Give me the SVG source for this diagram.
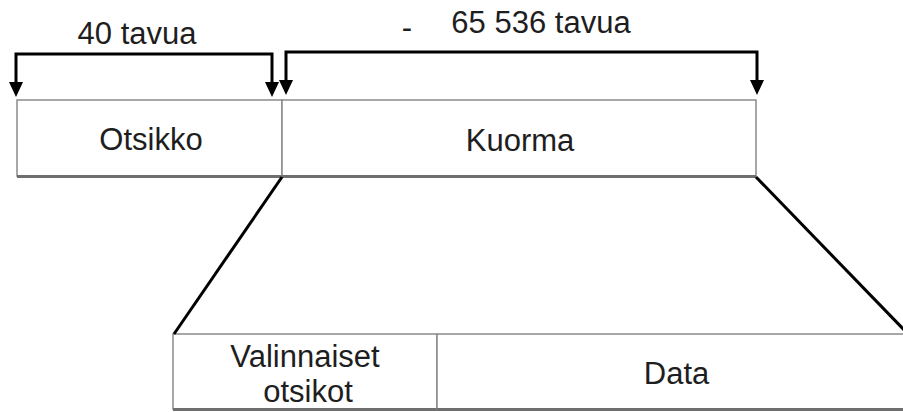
<svg xmlns="http://www.w3.org/2000/svg" width="903" height="412" viewBox="0 0 903 412">
  <style>
    .box { fill: #ffffff; stroke: #8a8a8a; stroke-width: 1.5; }
    .base { stroke: #6e6e6e; stroke-width: 3; fill: none; }
    .lbl { font-family: "Liberation Sans", Arial, sans-serif; font-size: 31px; fill: #1e1e1e; text-anchor: middle; }
    .conn { stroke: #000000; stroke-width: 3; fill: none; }
    .bracket { stroke: #000000; stroke-width: 3; fill: none; marker-start: url(#head); marker-end: url(#head); }
  </style>
  <defs>
    <marker id="head" viewBox="0 0 15 14" refX="0" refY="7" markerWidth="15" markerHeight="14" markerUnits="userSpaceOnUse" orient="auto-start-reverse">
      <path d="M0,0 L15,7 L0,14 z" fill="#000000"/>
    </marker>
  </defs>
  <rect x="0" y="0" width="903" height="412" fill="#ffffff"/>

  <g id="otsikko">
    <rect class="box" x="17" y="100" width="265" height="76"/>
    <line class="base" x1="17" y1="176.5" x2="282" y2="176.5"/>
    <text class="lbl" x="151" y="150">Otsikko</text>
  </g>

  <g id="kuorma">
    <rect class="box" x="282" y="100" width="474" height="76"/>
    <line class="base" x1="282" y1="176.5" x2="756" y2="176.5"/>
    <text class="lbl" x="520" y="151">Kuorma</text>
  </g>

  <g id="valinnaiset-otsikot">
    <rect class="box" x="173" y="334" width="264" height="75"/>
    <line class="base" x1="173" y1="409.5" x2="437" y2="409.5"/>
    <text class="lbl" x="305" y="367">Valinnaiset</text>
    <text class="lbl" x="308" y="402">otsikot</text>
  </g>

  <g id="data">
    <rect class="box" x="437" y="334" width="480" height="75"/>
    <line class="base" x1="437" y1="409.5" x2="917" y2="409.5"/>
    <text class="lbl" x="676.5" y="384">Data</text>
  </g>

  <g id="labels">
    <text class="lbl" x="137" y="44">40 tavua</text>
    <text class="lbl" x="407" y="38">-</text>
    <text class="lbl" x="541" y="33">65 536 tavua</text>
  </g>

  <g id="connectors">
    <path class="bracket" d="M16,82 V54 H272 V82"/>
    <path class="bracket" d="M286,80 V52 H757 V80"/>
    <line class="conn" x1="282" y1="177" x2="174" y2="334"/>
    <line class="conn" x1="756" y1="177" x2="910" y2="336"/>
  </g>
</svg>
